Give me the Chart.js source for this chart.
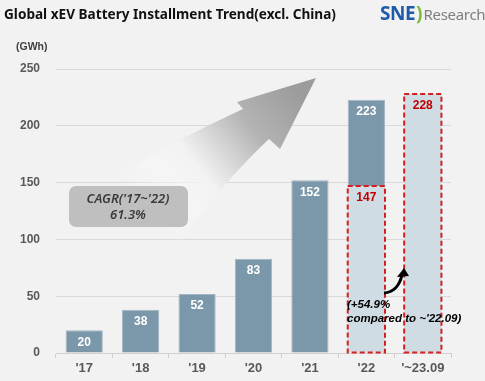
<!DOCTYPE html>
<html><head><meta charset="utf-8">
<script src="https://cdn.jsdelivr.net/npm/chart.js@4"></script>
<style>
html,body{margin:0;padding:0;background:#F2F2F2;}
#wrap{position:relative;width:485px;height:381px;overflow:hidden;background:#F2F2F2;}
#title{position:absolute;left:4px;top:4px;font:bold 13.6px "Noto Sans",sans-serif;color:#111;white-space:nowrap;}
#logo{position:absolute;left:380px;top:0px;white-space:nowrap;font-family:"Noto Sans",sans-serif;}
#logo .sne{font-weight:bold;font-size:19px;color:#1E5BAA;letter-spacing:-0.5px;}
#logo .par{font-weight:bold;font-size:19px;color:#7DBA3C;margin:0 1px;}
#logo .res{font-size:15px;color:#7F7F7F;letter-spacing:-0.3px;}
#unit{position:absolute;left:16px;top:40px;font:bold 10.5px "Liberation Sans",sans-serif;color:#404040;}
canvas{position:absolute;left:0;top:0;}
</style></head>
<body><div id="wrap">
<canvas id="c" width="485" height="381"></canvas>
<div id="title">Global xEV Battery Installment Trend(excl. China)</div>
<div id="logo"><span class="sne">SNE</span><span class="par">)</span><span class="res">Research</span></div>
<div id="unit">(GWh)</div>
</div>
<script>
const categories = ["'17","'18","'19","'20","'21","'22","'~23.09"];
const annualTotal = [20, 38, 52, 83, 152, 223, null];
const periodToSep = [null, null, null, null, null, 147, 228];
const yTicks = [0, 50, 100, 150, 200, 250];
const cagrText = ["CAGR('17~'22)", "61.3%"];
const growthText = ["(+54.9%", "compared to ~'22.09)"];

const DARK = '#7B98AA', LIGHT = '#D0DCE3', RED = '#D42020';
const FONT = '"Liberation Sans", Arial, sans-serif';

const lightData = periodToSep.map(v => v == null ? null : [0, v]);
const darkData = annualTotal.map((v, i) => v == null ? null : [periodToSep[i] == null ? 0 : periodToSep[i], v]);

const overlay = {
  id: 'overlay',
  beforeDatasetsDraw(chart) {
    const ctx = chart.ctx;
    ctx.save();
    const g = ctx.createLinearGradient(150, 215, 300, 95);
    g.addColorStop(0, 'rgba(255,255,255,0)');
    g.addColorStop(0.35, 'rgba(242,242,242,0.95)');
    g.addColorStop(0.7, '#B3B3B3');
    g.addColorStop(1, '#9C9C9C');
    ctx.fillStyle = g;
    ctx.beginPath();
    ctx.moveTo(316, 78);
    ctx.lineTo(237, 102);
    ctx.lineTo(243, 109);
    ctx.quadraticCurveTo(175, 140, 118, 175);
    ctx.lineTo(178, 244);
    ctx.quadraticCurveTo(225, 180, 269, 139);
    ctx.lineTo(280, 149);
    ctx.closePath();
    ctx.fill();
    ctx.restore();
  },
  afterDatasetsDraw(chart) {
    const ctx = chart.ctx;
    const m0 = chart.getDatasetMeta(0), m1 = chart.getDatasetMeta(1);
    ctx.save();
    ctx.strokeStyle = RED; ctx.lineWidth = 2; ctx.setLineDash([5, 3]);
    m0.data.forEach((el, i) => {
      if (periodToSep[i] == null) return;
      const w = el.width;
      ctx.strokeRect(el.x - w/2, el.y, w, el.base - el.y);
    });
    ctx.setLineDash([]);
    ctx.textAlign = 'center'; ctx.textBaseline = 'middle';
    ctx.font = 'bold 12px ' + FONT;
    m1.data.forEach((el, i) => {
      if (annualTotal[i] == null) return;
      ctx.fillStyle = '#FFFFFF';
      ctx.fillText(String(annualTotal[i]), el.x, el.y + 12);
    });
    m0.data.forEach((el, i) => {
      if (periodToSep[i] == null) return;
      ctx.fillStyle = '#C00000';
      ctx.fillText(String(periodToSep[i]), el.x, el.y + 12);
    });
    ctx.fillStyle = '#BFBFBF';
    ctx.beginPath();
    ctx.roundRect(69, 186, 119, 41, 7);
    ctx.fill();
    ctx.fillStyle = '#3A3A3A';
    ctx.font = 'italic 600 13px "Noto Sans", sans-serif';
    ctx.fillText(cagrText[0], 128, 199);
    ctx.fillText(cagrText[1], 128, 215);
    ctx.fillStyle = '#000';
    ctx.strokeStyle = '#000';
    ctx.lineWidth = 3;
    ctx.beginPath();
    ctx.moveTo(384, 293);
    ctx.quadraticCurveTo(398, 292, 402, 275);
    ctx.stroke();
    ctx.beginPath();
    ctx.moveTo(404, 268);
    ctx.lineTo(397, 277);
    ctx.lineTo(409, 276);
    ctx.closePath();
    ctx.fill();
    ctx.textAlign = 'left';
    ctx.font = 'italic bold 11.5px ' + FONT;
    ctx.fillText(growthText[0], 347, 305);
    ctx.fillText(growthText[1], 347, 319);
    ctx.restore();
  }
};

new Chart(document.getElementById('c'), {
  type: 'bar',
  data: {
    labels: categories,
    datasets: [
      { label: 'to Sep', data: lightData, backgroundColor: LIGHT, borderWidth: 0 },
      { label: 'annual', data: darkData, backgroundColor: DARK, borderColor: '#A3B6C2', borderWidth: 1, borderSkipped: 'bottom' }
    ]
  },
  options: {
    responsive: false, animation: false,
    layout: { padding: { top: 69, right: 34, left: 0, bottom: 0 } },
    plugins: { legend: { display: false }, tooltip: { enabled: false } },
    datasets: { bar: { barPercentage: 0.66, categoryPercentage: 1 } },
    scales: {
      x: {
        stacked: true,
        grid: { display: true, offset: true, drawOnChartArea: false, color: '#D0D0D0', tickLength: 5 },
        border: { display: true, color: '#D0D0D0', width: 1 },
        ticks: { color: '#595959', font: { family: FONT, size: 13, weight: 'bold' }, padding: 3 },
        afterFit(a) { a.height = 28; }
      },
      y: {
        min: 0, max: 250,
        afterBuildTicks(a) { a.ticks = yTicks.map(v => ({ value: v })); },
        grid: { color: '#D9D9D9', lineWidth: 1, drawTicks: false },
        border: { display: false },
        ticks: { color: '#595959', font: { family: FONT, size: 12, weight: 'bold' }, padding: 16 },
        afterFit(a) { a.width = 56; }
      }
    }
  },
  plugins: [overlay]
});
</script>
</body></html>
